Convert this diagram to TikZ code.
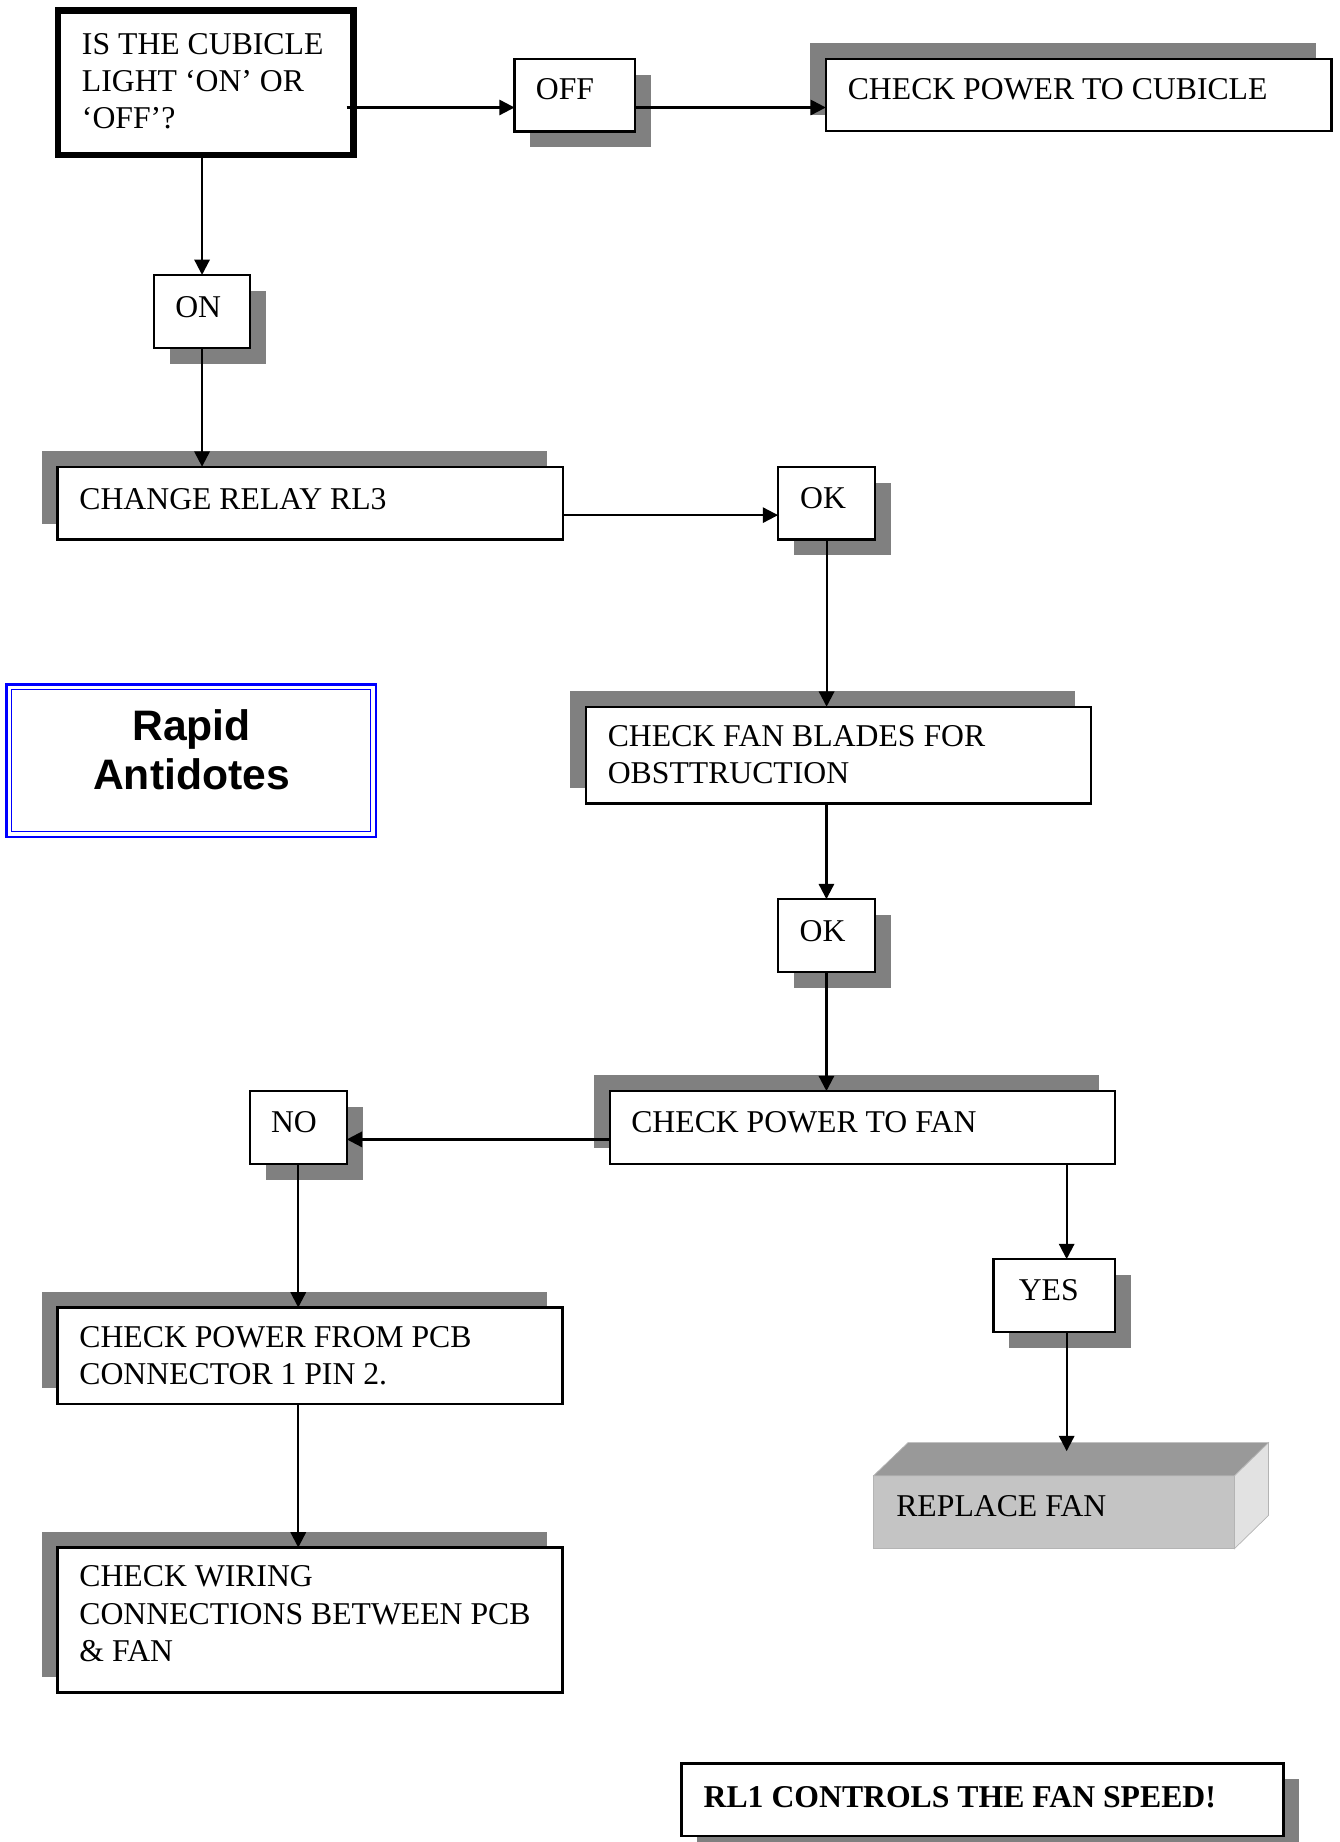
\documentclass[tikz,border=0pt]{standalone}
\usepackage{fontspec}
\setmainfont{Liberation Serif}
\newfontfamily\sansfam{Liberation Sans}
\usetikzlibrary{arrows.meta,shadows,calc}
\definecolor{shg}{HTML}{808080}
\definecolor{rffront}{HTML}{C4C4C4}
\definecolor{rftopc}{HTML}{999999}
\definecolor{rfside}{HTML}{E2E2E2}
\definecolor{rfedge}{HTML}{B4B4B4}
\newcommand\mlines[1]{\begin{tabular}[t]{@{}l@{}}#1\end{tabular}}
\begin{document}
\begin{tikzpicture}[x=1pt,y=-1pt,
  box/.style={draw=black, line width=1.9pt, fill=white, rectangle, inner sep=0pt, outer sep=0pt, anchor=north west},
  shbr/.style={drop shadow={shadow xshift=13.5pt, shadow yshift=-13.5pt, opacity=1, fill=shg}},
  shtl/.style={drop shadow={shadow xshift=-13.5pt, shadow yshift=13.5pt, opacity=1, fill=shg}},
  txt/.style={font=\fontsize{27}{31.7}\selectfont, inner sep=0pt, anchor=base west},
  arr/.style={line width=1.9pt, -{Triangle[length=13pt,width=13pt]}},
]
\useasboundingbox (0,0) rectangle (1140,1568);

% boxes
\node[box, line width=5.5pt, minimum width=251.5pt, minimum height=123pt] (q) at (49.5,9) {};
\node[box, shbr, minimum width=102.5pt, minimum height=61.5pt] (off) at (438,50.5) {};
\node[box, shtl, minimum width=430.5pt, minimum height=60.8pt] (cptc) at (703,50.5) {};
\node[box, shbr, minimum width=82pt, minimum height=62pt] (on) at (131,234) {};
\node[box, shtl, minimum width=430pt, minimum height=62pt] (cr) at (49,397.3) {};
\node[box, shbr, minimum width=82.7pt, minimum height=62pt] (ok1) at (662.3,397.3) {};
\node[box, shtl, minimum width=430.2pt, minimum height=82.3pt] (cfb) at (498.6,601.6) {};
\node[box, shbr, minimum width=82.6pt, minimum height=61.8pt] (ok2) at (662.2,765.4) {};
\node[box, shtl, minimum width=430pt, minimum height=62.2pt] (cpf) at (519.3,928.8) {};
\node[box, shbr, minimum width=82.6pt, minimum height=62.2pt] (no) at (212.6,928.8) {};
\node[box, shbr, minimum width=103.6pt, minimum height=61.9pt] (yes) at (845.7,1071.8) {};
\node[box, shtl, minimum width=430pt, minimum height=82.3pt] (cpcb) at (48.9,1113) {};
\node[box, shtl, minimum width=430pt, minimum height=123.5pt] (cwc) at (48.9,1317.3) {};
\node[box, shbr, line width=2.1pt, minimum width=512.5pt, minimum height=62pt] (rl1) at (580,1501) {};

% 3D replace fan block
\node[rectangle, fill=rffront, draw=rfedge, line width=0.8pt, inner sep=0pt, outer sep=0pt, anchor=north west, minimum width=307.3pt, minimum height=62pt] (rf) at (743.5,1256.3) {};
\path[fill=rftopc, draw=rfedge, line width=0.6pt] (rf.north west) -- ++(29.5,-28.3) -- ($(rf.north east)+(29,-28.3)$) -- (rf.north east) -- cycle;
\path[fill=rfside, draw=rfedge, line width=0.6pt] (rf.north east) -- ++(29,-28.3) -- ++(0,62) -- (rf.south east) -- cycle;

% Rapid Antidotes
\node[draw=blue, line width=2pt, rectangle, minimum width=314.5pt, minimum height=129.7pt, anchor=north west, inner sep=0pt, outer sep=0pt] (ra) at (5.5,582.6) {};
\draw[blue, line width=1.2pt] ([shift={(4.5,4.5)}]ra.north west) rectangle ([shift={(-4.5,-4.5)}]ra.south east);
\node[font=\sansfam\bfseries\fontsize{36.3}{41.8}\selectfont, anchor=base, inner sep=0pt] (ratxt) at (163,630.5) {\begin{tabular}[t]{@{}c@{}}Rapid\\Antidotes\end{tabular}};

% texts
\node[txt] (tq) at (69.6,46) {\mlines{IS THE CUBICLE\\LIGHT ‘ON’ OR\\‘OFF’?}};
\node[txt] (toff) at (456,85) {OFF};
\node[txt] (tcptc) at (721.5,85.1) {CHECK POWER TO CUBICLE};
\node[txt] (ton) at (149,270) {ON};
\node[txt] (tcr) at (67.4,433.6) {CHANGE RELAY RL3};
\node[txt] (tok1) at (681,432.8) {OK};
\node[txt] (tcfb) at (517.2,635.1) {\mlines{CHECK FAN BLADES FOR\\OBSTTRUCTION}};
\node[txt] (tok2) at (680.5,801.1) {OK};
\node[txt] (tcpf) at (537.2,964) {CHECK POWER TO FAN};
\node[txt] (tno) at (230.5,964) {NO};
\node[txt] (tyes) at (867,1107.4) {YES};
\node[txt] (tcpcb) at (67.4,1147) {\mlines{CHECK POWER FROM PCB\\CONNECTOR 1 PIN 2.}};
\node[txt] (tcwc) at (67.4,1350.8) {\mlines{CHECK WIRING\\CONNECTIONS BETWEEN PCB\\\& FAN}};
\node[txt] (trf) at (762.8,1290.7) {REPLACE FAN};
\node[txt, font=\fontsize{27}{31}\selectfont\bfseries] (trl1) at (598.8,1539) {RL1 CONTROLS THE FAN SPEED!};

% connectors
\coordinate (a1) at ($(off.west)+(0,10.25)$);
\draw[arr] ($(q.east |- a1)+(-6,0)$) -- (a1);
\draw[arr] (off.east |- a1) -- (cptc.west |- a1);
\draw[arr] (on.north |- q.south) -- (on.north);
\draw[arr] (on.south) -- (on.south |- cr.north);
\coordinate (b1) at ($(ok1.west)+(0,10.2)$);
\draw[arr] (cr.east |- b1) -- (b1);
\draw[arr] (ok1.south) -- (ok1.south |- cfb.north);
\draw[arr] (ok2.north |- cfb.south) -- (ok2.north);
\draw[arr] (ok2.south) -- (ok2.south |- cpf.north);
\coordinate (c1) at ($(no.east)+(0,10)$);
\draw[arr] (cpf.west |- c1) -- (c1);
\draw[arr] (no.south) -- (no.south |- cpcb.north);
\draw[arr] (no.south |- cpcb.south) -- (no.south |- cwc.north);
\coordinate (d1) at ($(yes.north)+(10.5,0)$);
\coordinate (rfin) at ($(rf.north)+(0,-21)$);
\draw[arr] (d1 |- cpf.south) -- (d1);
\draw[arr] (d1 |- yes.south) -- (d1 |- rfin);
\end{tikzpicture}
\end{document}
